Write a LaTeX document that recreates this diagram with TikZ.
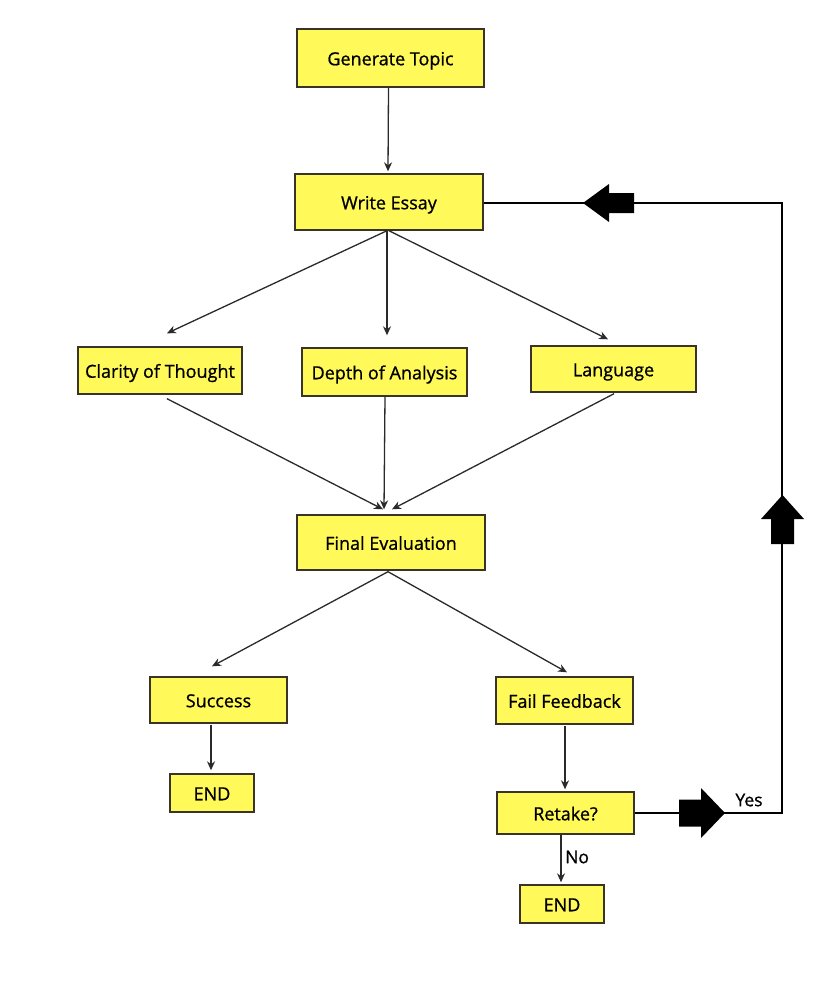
\documentclass[tikz,border=0pt]{standalone}
\usepackage{fontspec}
\setmainfont{Open Sans}[FakeBold=0.9]
\newfontfamily\boxfont{Open Sans}[FakeBold=0.9]
\usetikzlibrary{calc,arrows.meta}
\definecolor{boxfill}{HTML}{FFF95A}
\definecolor{boxline}{HTML}{3A3428}
\definecolor{arr}{HTML}{2A2A2A}
\tikzset{
  box/.style={draw=boxline, line width=1.4pt, fill=boxfill, inner sep=0pt,
    font=\boxfont\fontsize{18}{21}\selectfont, text height=14.5pt, text depth=0pt},
  thin/.style={draw=arr, line width=1.3pt, -{Stealth[length=9pt,width=8pt]}},
  loopline/.style={draw=black, line width=2.6pt},
  lbl/.style={font=\boxfont\fontsize{17.5}{20}\selectfont, inner sep=0pt}
}
\begin{document}
\begin{tikzpicture}[x=1pt,y=-1pt]
\useasboundingbox (0,0) rectangle (830,1004);
\fill[white] (0,0) rectangle (830,1004);

\node[box, minimum width=187pt, minimum height=58pt] (gen) at (390.5,58) {Generate Topic};
\node[box, minimum width=188pt, minimum height=56pt] (write) at (389,202) {Write Essay};
\node[box, minimum width=164pt, minimum height=47pt] (clar) at (160,370.5) {Clarity of Thought};
\node[box, minimum width=165pt, minimum height=48pt] (depth) at (384.5,372) {Depth of Analysis};
\node[box, minimum width=165pt, minimum height=46pt] (lang) at (613.5,369) {Language};
\node[box, minimum width=188pt, minimum height=55pt] (final) at (391,542.5) {Final Evaluation};
\node[box, minimum width=137pt, minimum height=46pt] (succ) at (218.5,700) {Success};
\node[box, minimum width=137pt, minimum height=47pt] (fail) at (564.5,700.5) {Fail Feedback};
\node[box, minimum width=84pt, minimum height=38pt] (endA) at (212,793) {END};
\node[box, minimum width=137pt, minimum height=42pt] (retake) at (565.5,813) {Retake?};
\node[box, minimum width=84pt, minimum height=38pt] (endB) at (562,904) {END};

% thin arrows
\draw[thin] ($(gen.south)+(-2,0)$) -- ($(write.north)+(-1,-2)$);
\draw[thin] ($(write.south)+(-2,0)$) -- ($(clar.north)+(7,-13)$);
\draw[thin] ($(write.south)+(-2,0)$) -- ($(depth.north)+(2.5,-12)$);
\draw[thin] ($(write.south)+(0,0)$) -- ($(lang.north)+(-5.5,-6)$);
\draw[thin] ($(clar.south)+(7,4)$) -- ($(final.north)+(-8,-5)$);
\draw[thin] ($(depth.south)+(0.5,0)$) -- ($(final.north)+(-7,-5)$);
\draw[thin] ($(lang.south)+(0.5,1)$) -- ($(final.north)+(1,-5)$);
\draw[thin] ($(final.south)+(-3,1)$) -- ($(succ.north)+(-6.5,-10)$);
\draw[thin] ($(final.south)+(-3,1)$) -- ($(fail.north)+(2.5,-4)$);
\draw[thin] ($(succ.south)+(-7.5,1)$) -- ($(endA.north)+(-1,-3)$);
\draw[thin] ($(fail.south)+(0.5,1)$) -- ($(retake.north)+(-0.5,-2)$);
\draw[thin] ($(retake.south)+(-4.5,0)$) -- ($(endB.north)+(-1,-2)$);
\node[lbl, anchor=west] (no) at (565,857) {No};

% loop back
\coordinate (c1) at (782,813);
\coordinate (c2) at (782,203);
\draw[loopline] (retake.east) -- (c1) -- (c2) -- (write.east |- c2);
\node[lbl] (yes) at (749,800) {Yes};

% block arrows
\fill[black] (679,799.5) -- (701,799.5) -- (701,788) -- (725,813) -- (701,838) -- (701,826.5) -- (679,826.5) -- cycle;
\fill[black] (771,544) -- (771,519) -- (761,519) -- (782.5,495) -- (804,519) -- (794,519) -- (794,544) -- cycle;
\fill[black] (634,193) -- (609,193) -- (609,184) -- (583,203) -- (609,222) -- (609,213) -- (634,213) -- cycle;
\end{tikzpicture}
\end{document}
